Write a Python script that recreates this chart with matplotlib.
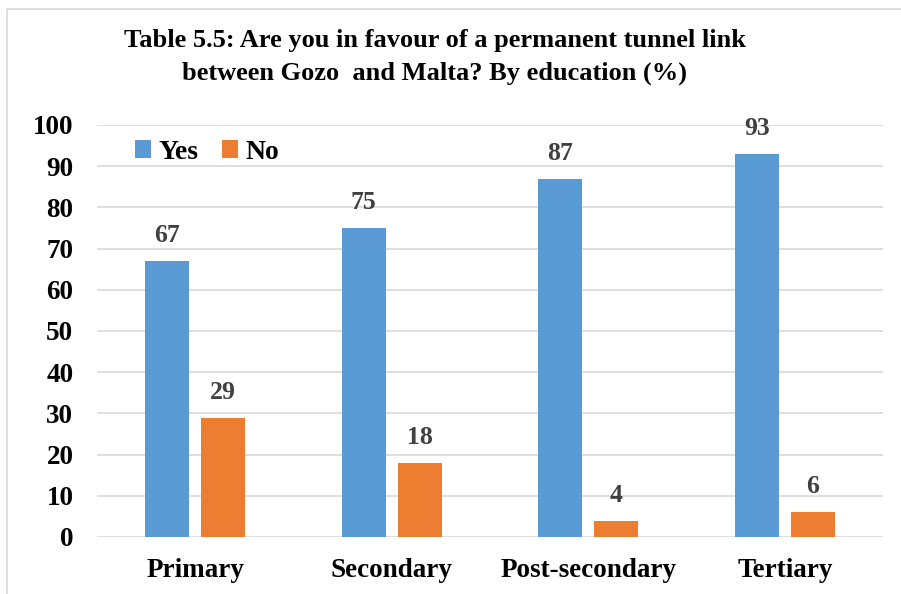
import numpy as np
import matplotlib.pyplot as plt
from matplotlib.patches import Rectangle

plt.rcParams['font.family'] = ['Liberation Serif', 'DejaVu Serif']
plt.rcParams['font.weight'] = 'bold'

categories = ['Primary', 'Secondary', 'Post-secondary', 'Tertiary']
yes_vals = [67, 75, 87, 93]
no_vals = [29, 18, 4, 6]
yticks = list(range(0, 101, 10))

blue = '#5B9BD5'
orange = '#ED7D31'

fig = plt.figure(figsize=(9.01, 5.94), dpi=100)
ax = fig.add_axes([97 / 901, 1 - 537 / 594, (883 - 97) / 901, (537 - 125) / 594])

x = np.arange(len(categories))
w = 0.224
off = 0.1425
b1 = ax.bar(x - off, yes_vals, w, color=blue, label='Yes', zorder=3)
b2 = ax.bar(x + off, no_vals, w, color=orange, label='No', zorder=3)

for bars, vals in ((b1, yes_vals), (b2, no_vals)):
    for r, v in zip(bars, vals):
        ax.text(r.get_x() + r.get_width() / 2, v + 3.4, str(v), ha='center', va='bottom',
                fontsize=18.5, fontweight='bold', color='#404040')

ax.set_xlim(-0.5, 3.5)
ax.set_ylim(0, 100)
ax.set_yticks(yticks)
ax.set_yticklabels([str(t) for t in yticks], fontsize=19.5, fontweight='bold')
ax.set_xticks(x)
ax.set_xticklabels(categories, fontsize=19.5, fontweight='bold')
ax.tick_params(length=0)
ax.tick_params(axis='y', pad=17)
ax.tick_params(axis='x', pad=15)
ax.yaxis.grid(True, color='#D9D9D9', linewidth=1.2, zorder=0)
for s in ax.spines.values():
    s.set_visible(False)

leg = ax.legend(loc='upper left', bbox_to_anchor=(0.016, 1.025), ncol=2, frameon=False,
                handlelength=0.6, handleheight=0.6, handletextpad=0.25,
                columnspacing=0.85, prop={'weight': 'bold', 'size': 20})

fig.text(435 / 901, 1 - 41 / 594, 'Table 5.5: Are you in favour of a permanent tunnel link',
         ha='center', va='center', fontsize=19, fontweight='bold')
fig.text(435 / 901, 1 - 73 / 594, 'between Gozo  and Malta? By education (%)',
         ha='center', va='center', fontsize=19, fontweight='bold')

# outer frame around the chart
fig.patches.append(Rectangle((7 / 901, -0.05), 1.0, 1 - 9 / 594 + 0.05,
                             transform=fig.transFigure, fill=False,
                             edgecolor='#D9D9D9', linewidth=1.2))

fig.savefig('out.png', dpi=100)
